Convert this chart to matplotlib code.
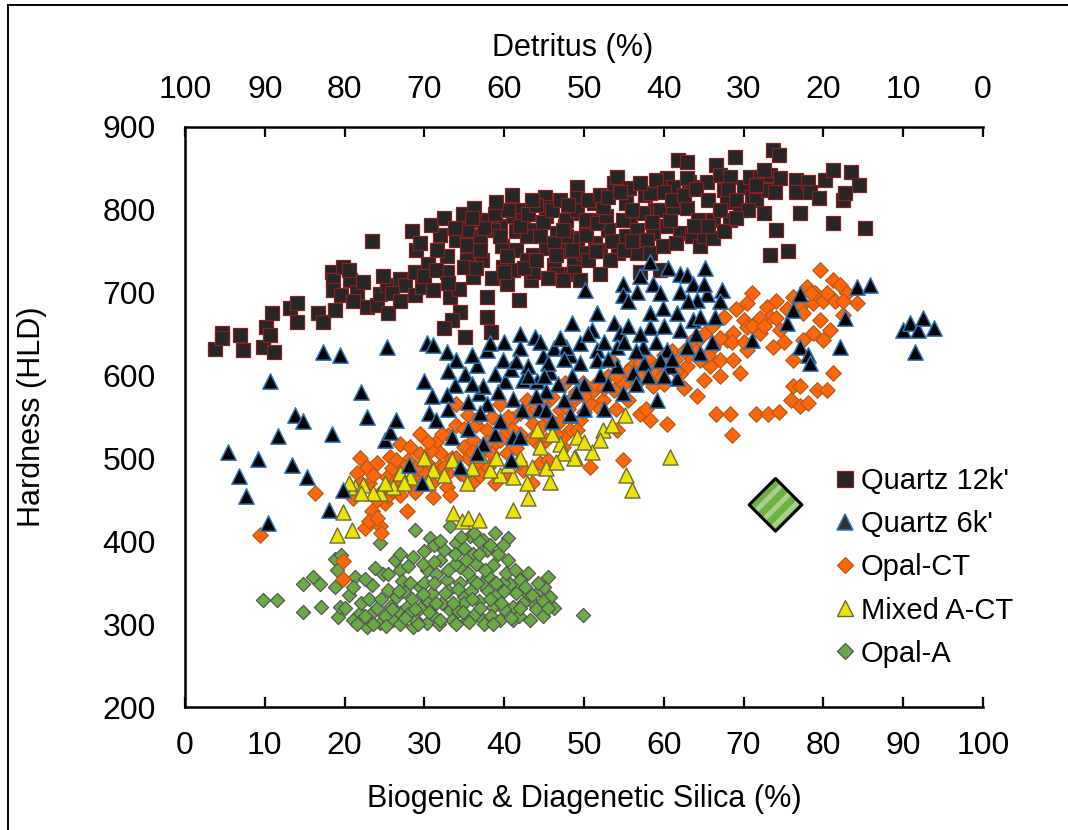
import matplotlib
matplotlib.use('Agg')
import matplotlib.pyplot as plt
from matplotlib.lines import Line2D

plt.rcParams['font.family'] = ['Liberation Sans', 'DejaVu Sans']

# ---------------- data ----------------
q12_x = [3.8, 4.6, 4.6, 6.9, 7.3, 9.8, 10.2, 10.9, 10.7, 11.1, 13.2, 14.0, 14.0, 16.7, 17.3,
         18.4, 18.6, 18.6, 18.8, 19.8, 19.6, 20.7, 21.5, 22.3, 22.8, 23.4, 24.0, 24.4, 25.3, 25.5,
         26.9, 27.6, 28.4, 29.0, 28.8, 28.8, 29.7, 30.5, 31.1, 32.0, 32.8, 32.8, 33.2, 34.0, 34.3,
         34.5, 33.4, 32.4, 35.1, 35.5, 35.3, 35.3, 36.1, 36.8, 37.0, 37.2, 37.8, 37.8, 38.4, 38.0,
         39.5, 39.7, 39.9, 40.3, 41.1, 41.5, 41.5, 41.8, 42.2, 42.4, 43.6, 43.6, 43.4, 43.6, 45.1,
         45.3, 45.3, 45.3, 46.2, 46.6, 47.4, 47.8, 48.5, 49.1, 49.1, 49.1, 48.7,
         47.6, 47.6, 48.7, 49.5, 51.2, 51.2, 51.4, 52.0, 53.7, 54.1, 53.0, 54.3, 55.6, 55.3, 55.8,
         56.6, 57.0, 57.6, 58.3, 58.9, 58.7, 59.5, 60.4, 60.4, 61.2, 61.8, 62.9, 62.0, 62.9, 63.1,
         63.5, 62.9, 63.5, 64.3, 64.5, 65.0, 65.4, 66.2, 66.6, 67.0, 67.5, 67.9, 66.2, 68.3, 68.9,
         68.3, 69.5, 70.0, 70.8, 71.0, 71.6, 72.1, 72.5, 73.1, 73.3, 73.7, 74.4, 73.9, 74.6, 74.1,
         73.3, 75.6, 76.6, 76.6, 77.1, 78.1, 78.3, 79.4, 80.2, 81.2, 81.2, 82.5, 82.7, 83.5, 84.4,
         85.2,
         47.8, 49.1, 50.3, 49.1, 50.3, 51.6, 52.8, 52.4, 47.8, 49.9, 52.0, 53.3, 54.9, 55.3, 56.6,
         57.4, 57.9, 59.5, 58.3, 59.9, 60.8, 61.2, 35.3, 38.6, 39.5, 42.8, 44.5, 46.2, 47.4, 42.8,
         40.3, 37.0, 34.9, 41.1, 46.6, 47.4,
         29.5, 30.8, 31.6, 32.5, 33.8, 34.8, 36.2, 37.5, 38.8, 40.5, 42.0, 43.0, 44.0, 44.8, 46.0,
         47.0, 48.0, 50.5, 52.0, 53.0, 54.5, 56.0, 57.0, 59.0, 60.0, 61.0, 62.5, 64.0, 65.5, 67.0,
         68.0, 69.0, 70.5, 71.5, 72.5, 30.0, 31.5, 33.0, 36.5, 38.5, 40.0, 42.5, 44.0, 45.5, 39.0,
         36.0, 41.0, 43.5, 46.5, 48.5, 50.5, 51.5, 53.5, 55.0, 56.0, 58.5, 61.5, 63.8, 65.5, 67.5,
         69.0, 26.0, 27.0, 21.0, 24.8, 20.5]
q12_y = [632, 651, 645, 649, 631, 634, 659, 675, 649, 629, 681, 688, 665, 676, 665,
         725, 715, 703, 679, 731, 697, 715, 701, 713, 683, 762, 685, 699, 709, 675,
         717, 709, 774, 752, 725, 697, 707, 735, 703, 770, 744, 725, 695, 764, 705,
         677, 667, 657, 647, 780, 758, 740, 719, 788, 768, 740, 695, 671, 653, 788,
         780, 756, 731, 711, 792, 774, 752, 691, 800, 788, 776, 746, 715, 725, 816,
         804, 792, 754, 733, 772, 750, 723, 796, 828, 814, 766, 740,
         780, 752, 725, 715, 808, 788, 760, 723, 832, 840, 776, 748, 826, 808, 788,
         748, 725, 818, 820, 800, 772, 727, 838, 780, 828, 860, 858, 772, 802, 834,
         828, 838, 768, 788, 756, 768, 834, 766, 854, 842, 824, 810, 788, 840, 864,
         788, 800, 828, 840, 816, 812, 840, 796, 824, 842, 872, 866, 822, 838, 776,
         746, 750, 836, 822, 796, 834, 822, 814, 836, 848, 784, 812, 820, 846, 830,
         778,
         788, 800, 788, 764, 770, 784, 792, 804, 768, 748, 752, 740, 788, 768, 776,
         796, 764, 800, 748, 756, 788, 804, 776, 776, 768, 768, 768, 760, 776, 740,
         744, 752, 731, 727, 723, 715,
         760, 782, 752, 790, 778, 795, 802, 778, 795, 800, 780, 795, 806, 785, 800,
         812, 806, 812, 818, 815, 822, 800, 832, 836, 822, 812, 818, 825, 812, 800,
         825, 812, 800, 830, 848, 720, 728, 712, 730, 718, 725, 730, 740, 718, 810,
         790, 818, 812, 745, 752, 740, 750, 762, 752, 762, 785, 760, 780, 780, 775,
         790, 700, 690, 690, 720, 728]

q6_x = [5.4, 6.8, 7.6, 9.1, 10.4, 10.6, 11.6, 13.4, 13.8, 14.8, 15.3, 17.3, 18.4, 19.4, 18.1,
        19.8, 22.1, 22.8, 25.3, 25.1, 25.7, 26.4, 28.1, 29.7, 30.0, 30.3, 30.6, 31.5, 31.1, 32.8,
        34.0, 33.8, 32.8, 33.4, 34.5, 35.1, 35.5, 35.5, 36.6, 36.8, 37.4, 37.4, 36.6, 37.8, 37.8,
        38.2, 38.8, 38.8, 39.9, 40.1, 40.9, 41.1, 41.1, 42.0, 42.2, 42.0, 42.4, 43.9, 44.1, 44.3,
        45.3, 45.3, 46.2, 48.2, 48.2,
        50.1, 58.3, 54.9, 54.9, 56.6, 58.7, 62.0, 62.9, 63.7, 62.0, 65.2, 65.4, 67.3, 64.1, 48.5,
        51.6, 51.0, 53.7, 54.5, 58.3, 59.9, 58.3, 61.6, 63.7, 64.5, 66.4, 47.8, 49.5, 51.6, 54.1,
        57.4, 60.4, 62.9, 64.5, 71.0, 75.4, 77.1, 76.2, 82.7, 84.2, 85.8, 90.0, 90.9, 91.9, 92.5,
        93.8, 91.5, 77.1, 78.1,
        48.2, 52.0, 54.9, 59.1, 61.6, 78.3, 82.1, 54.1, 49.5, 51.6, 56.2, 59.5, 60.8,
        43.0, 45.8, 46.8, 44.8, 40.8, 39.2, 36.0, 33.0, 47.5, 50.0, 53.0, 56.5, 57.5, 58.0, 60.0,
        40.0, 41.5, 43.0, 44.5, 45.5, 47.0, 48.5, 49.0, 50.5, 52.5, 53.0, 55.0, 55.5, 56.5, 57.0,
        59.0, 60.0, 61.0, 62.0, 63.0, 64.0, 65.0, 66.0, 67.0, 55.5, 57.0, 59.5, 60.5, 52.5, 46.0,
        44.0, 37.0, 39.5, 33.0, 31.0, 36.0, 45.0, 50.0, 47.5, 42.0]
q6_y = [508, 479, 455, 499, 422, 593, 527, 492, 552, 545, 478, 629, 530, 625, 438,
        462, 580, 550, 635, 522, 532, 546, 492, 470, 593, 639, 555, 546, 637, 629,
        619, 589, 577, 526, 490, 602, 568, 536, 613, 579, 518, 587, 506, 631, 566,
        639, 602, 530, 619, 593, 498, 572, 526, 633, 558, 526, 595, 647, 593, 560,
        581, 558, 633, 552, 625,
        703, 737, 711, 697, 701, 711, 723, 721, 711, 701, 730, 699, 703, 691, 663,
        675, 655, 663, 651, 675, 681, 659, 675, 667, 671, 671, 635, 639, 631, 635,
        635, 631, 635, 627, 643, 663, 699, 679, 669, 707, 709, 655, 663, 655, 669,
        657, 629, 635, 625,
        554, 601, 579, 571, 597, 615, 635, 611, 615, 619, 603, 619, 611,
        612, 604, 590, 624, 608, 580, 590, 605, 570, 590, 590, 590, 615, 600, 600,
        640, 618, 600, 640, 615, 645, 600, 580, 650, 640, 620, 640, 660, 630, 650,
        640, 660, 620, 655, 690, 650, 710, 640, 690, 690, 720, 700, 730, 560, 545,
        575, 555, 545, 560, 575, 625, 600, 560, 620, 650]

ct_x = [9.4, 16.3, 21.1, 21.9, 21.5, 22.6, 22.8, 23.4, 24.0, 24.4, 24.6, 25.1, 25.3, 25.7, 26.5,
        26.9, 27.8, 28.2, 28.6, 29.4, 30.3, 31.1, 31.5, 32.0, 32.8, 33.2, 34.0, 34.0, 34.9, 36.1,
        37.0, 37.8, 38.8, 39.5, 39.5, 40.3, 42.8, 42.4, 43.6, 44.5, 45.3, 47.0, 47.6, 47.4, 48.7,
        48.2, 19.8, 19.8,
        49.9, 50.8, 48.7, 49.5, 47.4, 49.1, 50.8, 52.4, 53.7, 54.1, 54.9, 57.0, 58.3, 60.4, 56.6,
        58.7, 59.5, 61.4, 62.9, 64.5, 64.1, 65.0, 65.8, 66.2, 67.0, 66.6, 68.3, 68.5, 67.9, 68.7,
        69.5, 70.4, 68.7, 70.0, 71.6, 73.1, 74.4, 72.1, 72.9, 73.3, 73.7, 74.6, 75.9, 76.2, 77.1,
        77.1, 78.1, 76.2, 77.5, 78.7, 79.6, 80.0, 79.2, 80.4, 81.2, 80.8, 77.1, 76.2, 78.7, 79.6,
        77.9, 81.2, 82.1, 84.2, 82.5, 70.4, 70.4, 67.5, 63.7,
        23.0, 24.8, 26.0, 27.0, 28.0, 29.0, 30.0, 30.8, 31.8, 33.0, 33.5, 34.5, 35.5, 36.5, 37.5,
        38.5, 39.0, 40.0, 41.0, 41.5, 42.0, 43.0, 44.0, 44.8, 45.8, 46.5, 46.0, 35.5, 38.0, 41.8,
        50.0, 51.0, 52.0, 53.0, 54.0, 55.0, 55.5, 56.0, 57.0, 58.0, 59.0, 60.0, 61.0, 62.0, 63.0,
        64.0, 65.0, 66.0, 67.0, 69.0, 71.0, 72.0, 74.0, 75.0, 79.0, 80.0, 81.5, 83.0, 53.5, 57.8,
        62.5, 45.5, 43.5, 36.0,
        22.0, 23.5, 24.0, 25.5, 26.5, 27.5, 28.8, 29.5, 30.5, 31.0, 32.2, 33.0, 34.0, 35.0, 36.0,
        36.8, 37.8, 38.5, 39.5, 40.5, 41.0, 42.0, 43.5, 44.0, 45.0, 46.0, 47.0, 48.0, 49.0, 50.0,
        51.5, 52.5, 54.0, 55.5, 57.0, 58.5, 60.0, 61.5, 62.5, 64.0, 65.5, 67.0, 68.5, 70.0, 71.0,
        72.5, 74.0, 75.5, 77.5, 78.5, 80.5, 82.5, 23.0, 24.0, 26.0, 29.0, 32.5, 35.0, 37.0, 40.5]
ct_y = [408, 458, 452, 500, 482, 416, 490, 436, 494, 418, 410, 446, 478, 502, 474,
        518, 436, 514, 478, 530, 494, 454, 520, 506, 466, 456, 566, 540, 514, 522,
        494, 534, 470, 566, 544, 506, 570, 486, 542, 494, 522, 558, 591, 514, 570,
        534, 376, 355,
        591, 567, 575, 546, 526, 534, 490, 571, 583, 534, 498, 554, 546, 542, 591,
        587, 599, 619, 611, 619, 575, 595, 611, 635, 619, 554, 554, 528, 643, 619,
        603, 631, 651, 667, 554, 554, 556, 651, 683, 671, 635, 655, 571, 587, 587,
        563, 567, 619, 643, 651, 667, 643, 583, 583, 603, 655, 683, 695, 687, 727,
        707, 715, 709, 687, 673, 687, 659, 671, 643,
        470, 462, 488, 456, 498, 466, 482, 510, 490, 528, 500, 482, 500, 540, 512,
        550, 520, 530, 548, 512, 530, 556, 520, 540, 548, 530, 574, 552, 490, 496,
        556, 580, 560, 600, 560, 590, 570, 612, 600, 620, 610, 590, 630, 602, 625,
        640, 650, 660, 600, 680, 700, 670, 690, 640, 700, 690, 690, 700, 618, 560,
        585, 498, 470, 470,
        470, 480, 450, 455, 498, 490, 460, 505, 520, 470, 530, 482, 500, 535, 508,
        550, 520, 505, 522, 550, 535, 555, 525, 560, 565, 540, 545, 560, 580, 575,
        590, 585, 600, 605, 615, 605, 625, 605, 630, 630, 625, 645, 640, 640, 660,
        660, 670, 680, 675, 700, 700, 690, 425, 428, 462, 488, 490, 480, 480, 478]

act_x = [19.0, 19.8, 20.9, 21.3, 22.3, 24.4, 29.9, 33.6, 34.7, 35.5, 36.8, 39.5, 41.1, 42.8, 43.0,
         41.1, 45.7, 45.3, 48.9, 47.0, 44.5, 44.1, 49.1, 38.2, 35.3, 31.1, 28.2, 26.9, 26.1, 23.6,
         55.1, 52.4, 52.0, 51.0, 48.7, 55.3, 56.0, 60.8, 47.4,
         20.5, 22.0, 25.0, 27.5, 30.5, 32.5, 33.5, 36.0, 37.0, 39.0, 40.5, 42.0, 43.5, 46.5, 50.0,
         53.5, 46.0]
act_y = [408, 435, 414, 466, 468, 458, 500, 434, 424, 428, 426, 480, 478, 470, 452,
         438, 472, 488, 502, 518, 514, 534, 526, 486, 470, 486, 478, 482, 466, 458,
         552, 534, 522, 508, 500, 480, 462, 502, 506,
         470, 458, 470, 470, 472, 480, 498, 488, 504, 500, 492, 500, 490, 496, 520,
         540, 530]

oa_x = [9.8, 11.5, 14.8, 14.8, 16.1, 17.1, 16.9, 18.8, 19.0, 19.6, 19.2, 19.4, 18.8, 20.5, 21.3,
        21.1, 21.9, 23.4, 23.4, 24.4, 24.4, 25.5, 26.3, 26.9, 26.1, 26.9, 28.6, 28.8, 29.4, 30.3,
        30.3, 30.7, 32.0, 32.8, 33.2, 33.2, 34.0, 34.5, 34.9, 35.3, 35.7, 36.1, 36.1, 37.4, 37.8,
        38.6, 38.8, 38.6, 40.5, 40.5, 40.7, 41.1, 42.0, 42.8, 43.6, 44.5, 45.5, 45.7, 46.2, 49.9,
        41.1, 37.0, 28.6, 22.8, 27.8, 30.3, 26.5,
        22.0, 23.0, 24.0, 25.0, 25.8, 27.0, 27.5, 28.0, 28.5, 29.0, 29.5, 30.0, 31.0, 31.0, 31.5,
        31.8, 32.2, 32.5, 33.0, 33.5, 33.8, 34.2, 34.5, 35.0, 35.0, 35.5, 35.8, 36.3, 36.5, 36.8,
        37.2, 37.5, 37.8, 38.0, 38.3, 39.0, 39.2, 39.5, 39.8, 40.0, 40.2, 41.5, 41.8, 42.3, 43.0,
        43.2, 44.0, 44.8, 45.0, 24.8, 27.2, 29.8, 31.2, 36.8,
        21.5, 22.5, 23.5, 24.5, 25.2, 26.0, 26.8, 27.6, 28.2, 28.8, 29.2, 29.8, 30.6, 31.2, 31.5,
        32.0, 32.6, 33.0, 33.6, 34.0, 34.2, 34.8, 35.2, 35.6, 36.0, 36.6, 37.0, 37.6, 38.2, 38.6,
        39.0, 39.6, 40.0, 40.8, 41.4, 42.0, 42.6, 43.5, 44.2, 44.8, 45.5, 34.6, 36.2, 32.0, 30.0,
        28.0, 38.2, 39.8, 33.8, 36.8, 31.2, 27.0, 25.5, 23.8, 22.5, 21.0, 20.0]
oa_y = [329, 329, 349, 315, 357, 321, 349, 379, 365, 383, 309, 321, 345, 335, 357,
        305, 313, 347, 313, 398, 301, 341, 377, 365, 305, 313, 381, 414, 345, 301,
        365, 404, 377, 353, 418, 317, 398, 369, 333, 305, 406, 385, 353, 402, 341,
        321, 410, 371, 404, 377, 349, 321, 353, 337, 325, 341, 357, 333, 319, 311,
        305, 309, 297, 297, 321, 329, 333,
        325, 330, 320, 310, 322, 300, 340, 312, 330, 305, 320, 350, 312, 338, 360,
        300, 325, 390, 340, 305, 372, 316, 350, 392, 325, 362, 340, 312, 372, 328,
        350, 300, 390, 358, 310, 335, 385, 305, 350, 318, 362, 338, 310, 325, 362,
        305, 318, 328, 345, 360, 352, 372, 395, 400,
        300, 310, 300, 330, 298, 318, 340, 308, 350, 318, 300, 336, 315, 350, 325,
        305, 338, 365, 325, 300, 342, 315, 378, 302, 330, 350, 320, 365, 330, 300,
        350, 325, 340, 308, 365, 320, 345, 335, 350, 310, 320, 405, 410, 400, 388,
        370, 395, 395, 385, 385, 375, 385, 360, 368, 355, 345, 320]

big_x = [74.0]
big_y = [444]

series_labels = ["Quartz 12k'", "Quartz 6k'", "Opal-CT", "Mixed A-CT", "Opal-A"]
x_ticks = list(range(0, 101, 10))
y_ticks = list(range(200, 901, 100))

# ---------------- styles ----------------
C_Q12_FACE, C_Q12_EDGE = '#262626', '#8c2020'
C_Q6_FACE, C_Q6_EDGE = '#000000', '#2e75b6'
C_CT_FACE, C_CT_EDGE = '#ff6609', '#b85a1a'
C_ACT_FACE, C_ACT_EDGE = '#ece400', '#6e6b3a'
C_OA_FACE, C_OA_EDGE = '#6aaa45', '#555555'

W, H = 1068, 830
fig = plt.figure(figsize=(W / 100, H / 100), dpi=100)
ax = fig.add_axes([185 / W, 1 - 707 / H, 798 / W, 580 / H])

ax.scatter(oa_x, oa_y, marker='D', s=52, facecolor=C_OA_FACE, edgecolor=C_OA_EDGE,
           linewidths=0.9, zorder=2)
ax.scatter(ct_x, ct_y, marker='D', s=62, facecolor=C_CT_FACE, edgecolor=C_CT_EDGE,
           linewidths=0.9, zorder=3)
ax.scatter(act_x, act_y, marker='^', s=118, facecolor=C_ACT_FACE, edgecolor=C_ACT_EDGE,
           linewidths=1.0, zorder=4)
ax.scatter(q12_x, q12_y, marker='s', s=100, facecolor=C_Q12_FACE, edgecolor=C_Q12_EDGE,
           linewidths=0.9, zorder=5)
ax.scatter(q6_x, q6_y, marker='^', s=122, facecolor=C_Q6_FACE, edgecolor=C_Q6_EDGE,
           linewidths=1.1, zorder=6)

# big hatched diamond
plt.rcParams['hatch.color'] = '#a8d08a'
plt.rcParams['hatch.linewidth'] = 3.5
ax.scatter(big_x, big_y, marker='D', s=720, facecolor='#6fb044', edgecolor='#a8d08a',
           hatch='//', linewidths=0, zorder=7)
ax.scatter(big_x, big_y, marker='D', s=720, facecolor='none', edgecolor='black',
           linewidths=2.2, zorder=8)

ax.set_xlim(0, 100)
ax.set_ylim(200, 900)
ax.set_xticks(x_ticks)
ax.set_yticks(y_ticks)

for side in ['right', 'top']:
    ax.spines[side].set_visible(False)
for side in ['left', 'bottom']:
    ax.spines[side].set_linewidth(1.8)

ax.tick_params(axis='x', direction='in', length=7.2, width=1.6, labelsize=23, pad=17)
ax.tick_params(axis='y', length=0, labelsize=23, pad=21)

secax = ax.secondary_xaxis('top', functions=(lambda v: 100 - v, lambda v: 100 - v))
secax.set_xticks(x_ticks)
secax.tick_params(direction='in', length=7.2, width=1.6, labelsize=23, pad=16)
secax.spines['top'].set_linewidth(1.8)

ax.set_xlabel('Biogenic & Diagenetic Silica (%)', fontsize=22)
ax.xaxis.label.set_va('baseline')
ax.xaxis.set_label_coords(0.5, (707 - 807) / 580)

secax.set_xlabel('Detritus (%)', fontsize=22)
secax.xaxis.label.set_va('baseline')
secax.xaxis.set_label_coords(0.486, (707 - 56) / 580, transform=ax.transAxes)

ax.set_ylabel('Hardness (HLD)', fontsize=22)
ax.yaxis.label.set_va('center')
ax.yaxis.set_label_coords((32 - 185) / 798, 0.5)

handles = [
    Line2D([], [], ls='none', marker='s', markersize=11, markerfacecolor=C_Q12_FACE,
           markeredgecolor=C_Q12_EDGE, markeredgewidth=0.9),
    Line2D([], [], ls='none', marker='^', markersize=12, markerfacecolor='#333333',
           markeredgecolor=C_Q6_EDGE, markeredgewidth=1.1),
    Line2D([], [], ls='none', marker='D', markersize=8.5, markerfacecolor=C_CT_FACE,
           markeredgecolor=C_CT_EDGE, markeredgewidth=0.9),
    Line2D([], [], ls='none', marker='^', markersize=12, markerfacecolor=C_ACT_FACE,
           markeredgecolor=C_ACT_EDGE, markeredgewidth=1.0),
    Line2D([], [], ls='none', marker='D', markersize=8.5, markerfacecolor=C_OA_FACE,
           markeredgecolor=C_OA_EDGE, markeredgewidth=0.9),
]
fig.legend(handles, series_labels, loc='upper left',
           bbox_to_anchor=(836 / W, 1 - 467 / H), bbox_transform=fig.transFigure,
           frameon=False, fontsize=21, handlelength=0.6, handletextpad=0.25,
           labelspacing=0.52, borderpad=0, borderaxespad=0)

# outer frame lines of the figure (left and top visible)
fig.add_artist(Line2D([8 / W, 8 / W], [0, 1 - 5 / H], transform=fig.transFigure,
                      color='black', lw=1.4))
fig.add_artist(Line2D([8 / W, 1], [1 - 5 / H, 1 - 5 / H], transform=fig.transFigure,
                      color='black', lw=1.4))

fig.savefig('out.png', dpi=100)
